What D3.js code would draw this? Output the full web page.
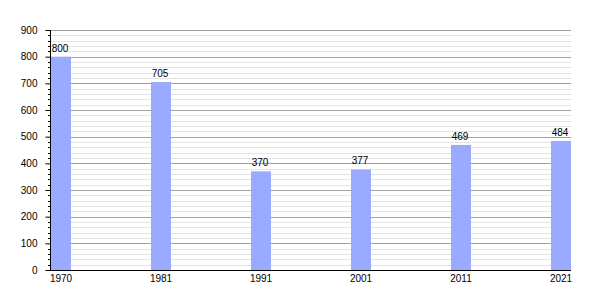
<!DOCTYPE html>
<html>
<head>
<meta charset="utf-8">
<script src="https://cdn.jsdelivr.net/npm/d3@7"></script>
<style>
  body { margin: 0; background: #fff; }
  text { font-family: "Liberation Sans", Arial, sans-serif; font-size: 10px; fill: #000; }
</style>
</head>
<body>
<div id="chart"></div>
<script>
"use strict";

var years = ["1970", "1981", "1991", "2001", "2011", "2021"];
var values = [800, 705, 370, 377, 469, 484];
var yTicks = [0, 100, 200, 300, 400, 500, 600, 700, 800, 900];

var width = 600, height = 300;
var plotL = 50, plotR = 571, plotT = 30, plotB = 270;
var barW = 20;

var svg = d3.select("#chart").append("svg")
    .attr("width", width)
    .attr("height", height);

var x = d3.scalePoint().domain(years).range([plotL + 1, plotR - barW]);
var y = d3.scaleLinear().domain([0, 900]).range([plotB, plotT]);

// minor grid every 20
var minor = d3.range(0, 901, 20).filter(function (v) { return v % 100 !== 0; });
svg.selectAll(".minor")
   .data(minor)
   .enter().append("line")
   .attr("x1", plotL).attr("x2", plotR)
   .attr("y1", function (d) { return Math.round(y(d)) + 0.5; })
   .attr("y2", function (d) { return Math.round(y(d)) + 0.5; })
   .attr("stroke", "#e3e3e3");

// major grid
svg.selectAll(".major")
   .data(yTicks.slice(1))
   .enter().append("line")
   .attr("x1", plotL).attr("x2", plotR)
   .attr("y1", function (d) { return Math.round(y(d)) + 0.5; })
   .attr("y2", function (d) { return Math.round(y(d)) + 0.5; })
   .attr("stroke", "#a0a0a0");

// bars
svg.selectAll(".bar")
   .data(values)
   .enter().append("rect")
   .attr("x", function (d, i) { return x(years[i]); })
   .attr("y", function (d) { return y(d); })
   .attr("width", barW)
   .attr("height", function (d) { return plotB - y(d); })
   .attr("fill", "#99aaff");

// value labels
svg.selectAll(".val")
   .data(values)
   .enter().append("text")
   .attr("x", function (d, i) { return x(years[i]) + barW / 2 - 1; })
   .attr("y", function (d) { return y(d) - 5; })
   .attr("text-anchor", "middle")
   .text(function (d) { return d; });

// y axis
var yAxis = d3.axisLeft(y)
    .tickValues(yTicks)
    .tickSize(5)
    .tickPadding(8);
var ga = svg.append("g").attr("transform", "translate(" + (plotL + 0.5) + ",0)").call(yAxis);
ga.select(".domain").remove();
ga.attr("font-size", null).attr("font-family", null);
ga.selectAll(".tick line").attr("stroke", "#000");

// minor ticks
svg.selectAll(".mtick")
   .data(minor)
   .enter().append("line")
   .attr("x1", plotL - 2).attr("x2", plotL + 1)
   .attr("y1", function (d) { return Math.round(y(d)) + 0.5; })
   .attr("y2", function (d) { return Math.round(y(d)) + 0.5; })
   .attr("stroke", "#000");

svg.append("line")
   .attr("x1", plotL + 0.5).attr("x2", plotL + 0.5)
   .attr("y1", plotT).attr("y2", plotB)
   .attr("stroke", "#000");

// x axis
svg.append("line")
   .attr("x1", plotL).attr("x2", plotR)
   .attr("y1", plotB + 0.5).attr("y2", plotB + 0.5)
   .attr("stroke", "#000");

svg.selectAll(".xl")
   .data(years)
   .enter().append("text")
   .attr("x", function (d) { return x(d) + barW / 2; })
   .attr("y", plotB + 12)
   .attr("text-anchor", "middle")
   .text(function (d) { return d; });
</script>
</body>
</html>
